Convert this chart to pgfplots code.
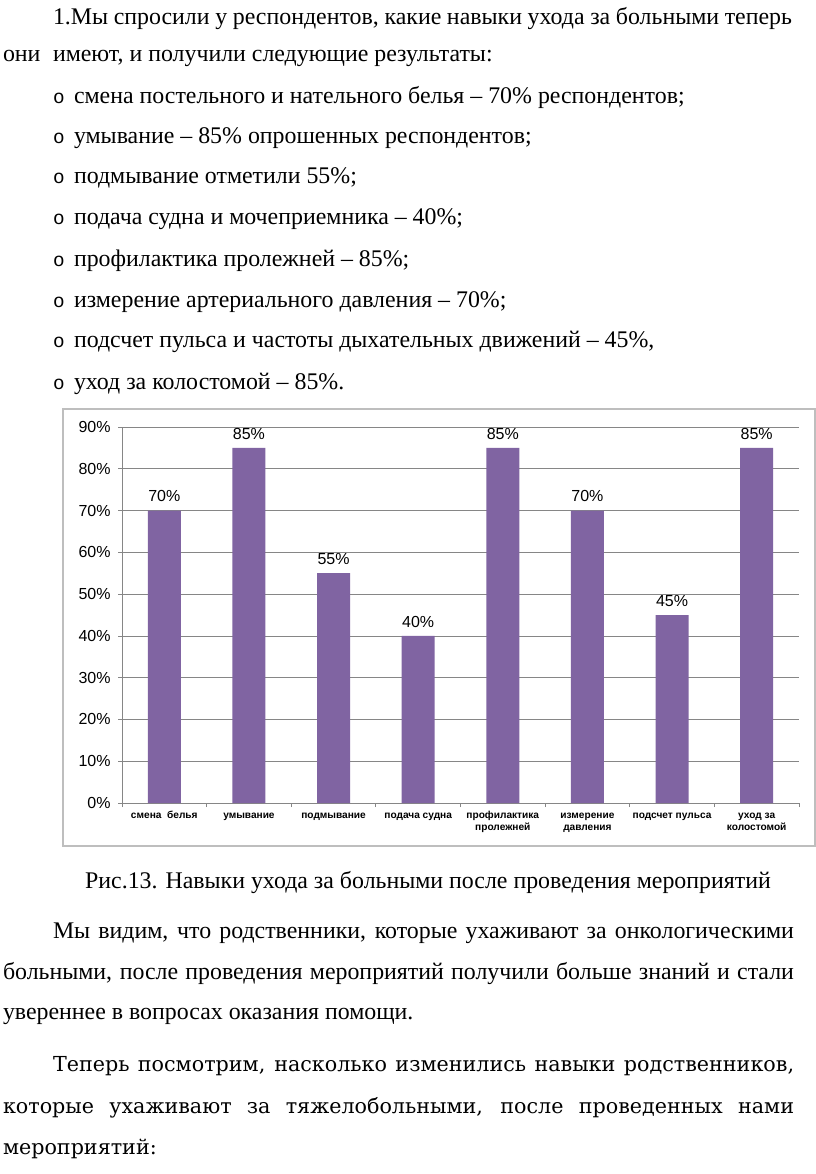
\documentclass[border=0pt]{standalone}
\usepackage{fontspec}
\setmainfont{Liberation Serif}
\newfontfamily\arial{Liberation Sans}
\newfontfamily\cambria{DejaVu Serif}
\newfontfamily\cour{Liberation Mono}
\usepackage{pgfplots}
\pgfplotsset{compat=1.18}

\definecolor{barcol}{RGB}{128,100,162}
\definecolor{gridcol}{RGB}{134,134,134}
\definecolor{framecol}{RGB}{190,190,190}

\newdimen\pxu \pxu=0.75pt
% justified line of a given width in px
\newcommand\jline[2]{\makebox[#1\pxu][s]{#2}}
\newcommand\bodyfont{\fontsize{17.9}{20}\selectfont}
\newcommand\camfont{\cambria\fontsize{15.5}{18}\selectfont}
\newcommand\bul{\cour\fontsize{14.5}{14}\selectfont o}

\begin{document}
\begin{tikzpicture}[x=0.75pt,y=-0.75pt,
  txt/.style={anchor=base west, inner sep=0pt, outer sep=0pt, font=\bodyfont}]
\path[use as bounding box, fill=white] (0,0) rectangle (816,1174);

% text above the chart
\node[txt] at (53,24) {\jline{739}{1.Мы спросили у респондентов, какие навыки ухода за больными теперь}};
\node[txt] at (3,61) {они};
\node[txt] at (53,61) {имеют, и получили следующие результаты:};
\foreach \yy/\tt in {
  103/{смена постельного и нательного белья – 70\% респондентов;},
  143/{умывание – 85\% опрошенных респондентов;},
  183/{подмывание отметили 55\%;},
  224/{подача судна и мочеприемника – 40\%;},
  266/{профилактика пролежней – 85\%;},
  307/{измерение артериального давления – 70\%;},
  347/{подсчет пульса и частоты дыхательных движений – 45\%,},
  389/{уход за колостомой – 85\%.}}{
  \node[txt] at (53,\yy) {\bul};
  \node[txt] at (74,\yy) {\tt};
}

% chart frame
\draw[framecol, line width=0.8pt] (63,409) rectangle (815,846);

\begin{axis}[
  at={(91.5pt,-602.25pt)}, anchor=south west,
  scale only axis, width=507.75pt, height=282pt,
  xmin=-0.5, xmax=7.5, ymin=0, ymax=90,
  axis x line*=bottom, axis y line*=left,
  axis line style={draw=gridcol, line width=0.6pt},
  ymajorgrids, grid style={draw=gridcol, line width=0.6pt},
  /pgf/number format/assume math mode=true,
  ytick={0,10,...,90},
  yticklabel={\pgfmathprintnumber{\tick}\%},
  yticklabel style={font=\arial\fontsize{12}{12}\selectfont, black, xshift=-2pt},
  tick align=outside, major tick length=3pt,
  tick style={draw=gridcol, line width=0.6pt},
  xtick={-0.5,0.5,...,7.5}, xticklabels={},
  extra x ticks={0,1,2,3,4,5,6,7},
  extra x tick labels={{\strut смена\ \ белья},{\strut умывание},{\strut подмывание},{\strut подача судна},
    {\strut профилактика\\пролежней},{\strut измерение\\давления},{\strut подсчет пульса},{\strut уход за\\колостомой}},
  extra x tick style={major tick length=0pt,
    tick label style={font=\arial\bfseries\fontsize{7.6}{8.4}\selectfont, align=center, black, yshift=-2.5pt}},
  ybar, bar width=24.75pt,
  nodes near coords={\pgfmathprintnumber{\pgfplotspointmeta}\%},
  every node near coord/.append style={font=\arial\fontsize{12}{12}\selectfont, black, yshift=3pt},
  clip=false,
]
\addplot[fill=barcol, draw=none] coordinates {
  (0,70) (1,85) (2,55) (3,40) (4,85) (5,70) (6,45) (7,85)
};
\end{axis}

% caption and text below
\node[anchor=base, inner sep=0pt, font=\bodyfont] at (428,888)
  {Рис.13. Навыки ухода за больными после проведения мероприятий};
\node[txt] at (53,938) {\jline{741}{Мы видим, что родственники, которые ухаживают за онкологическими}};
\node[txt] at (3,979) {\jline{791}{больными, после проведения мероприятий получили больше знаний и стали}};
\node[txt] at (3,1019) {увереннее в вопросах оказания помощи.};
\node[txt, font=\camfont] at (53,1071) {\jline{741}{Теперь посмотрим, насколько изменились навыки родственников,}};
\node[txt, font=\camfont] at (3,1113) {\jline{791}{которые ухаживают за тяжелобольными, после проведенных нами}};
\node[txt, font=\camfont] at (3,1154) {мероприятий:};
\end{tikzpicture}
\end{document}
